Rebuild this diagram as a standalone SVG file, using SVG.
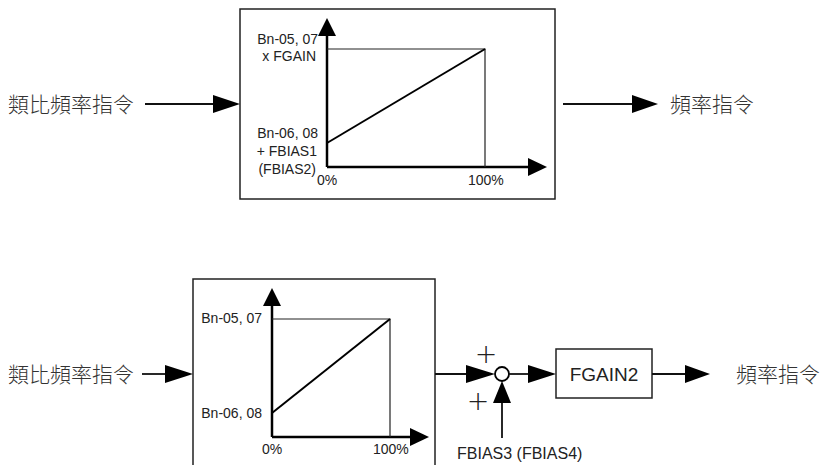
<svg xmlns="http://www.w3.org/2000/svg" width="821" height="465" viewBox="0 0 821 465">
<style>
.bg{fill:#fff}
.box{fill:none;stroke:#222;stroke-width:1.5}
.axis{fill:none;stroke:#000;stroke-width:2.5}
.thin{fill:none;stroke:#222;stroke-width:1.2}
.diag{fill:none;stroke:#000;stroke-width:2}
.wire{fill:none;stroke:#111;stroke-width:1.8}
.ah{fill:#000;stroke:none}
.lbl{font-family:"Liberation Sans",Arial,sans-serif;font-size:14px;fill:#222}
.cjk{font-family:"Noto Sans CJK TC","Noto Sans CJK SC",sans-serif;font-size:21px;fill:#333;font-weight:300}
.plus{font-family:"DejaVu Sans","Liberation Sans",sans-serif;font-size:27px;fill:#222;font-weight:200}
</style>
<rect class="bg" x="0" y="0" width="821" height="465"/>

<g id="top-graph">
<rect class="box" x="240" y="9" width="315" height="190"/>
<line class="axis" x1="327" y1="167" x2="327" y2="34"/>
<polygon class="ah" points="327,18 318,36 336,36"/>
<line class="axis" x1="327" y1="167" x2="530" y2="167"/>
<polygon class="ah" points="547,167 528,158 528,176"/>
<polyline class="thin" points="327,49 485,49 485,167"/>
<line class="diag" x1="327" y1="143" x2="485" y2="49"/>
<text class="lbl" x="318" y="44" text-anchor="end">Bn-05, 07</text>
<text class="lbl" x="316" y="61" text-anchor="end">x FGAIN</text>
<text class="lbl" x="318" y="138" text-anchor="end">Bn-06, 08</text>
<text class="lbl" x="317" y="156" text-anchor="end">+ FBIAS1</text>
<text class="lbl" x="316" y="174" text-anchor="end">(FBIAS2)</text>
<text class="lbl" x="317" y="185">0%</text>
<text class="lbl" x="468" y="185">100%</text>
</g>

<g id="top-input">
<text class="cjk" x="8" y="112">類比頻率指令</text>
</g>
<g id="top-output">
<text class="cjk" x="670" y="112">頻率指令</text>
</g>

<g id="bottom-graph">
<rect class="box" x="193" y="279" width="242" height="210"/>
<line class="axis" x1="272" y1="437" x2="272" y2="304"/>
<polygon class="ah" points="272,288 263,306 281,306"/>
<line class="axis" x1="272" y1="437" x2="412" y2="437"/>
<polygon class="ah" points="429,437 410,428 410,446"/>
<polyline class="thin" points="272,319 390,319 390,437"/>
<line class="diag" x1="272" y1="413" x2="390" y2="319"/>
<text class="lbl" x="262" y="323" text-anchor="end">Bn-05, 07</text>
<text class="lbl" x="262" y="418" text-anchor="end">Bn-06, 08</text>
<text class="lbl" x="262" y="454">0%</text>
<text class="lbl" x="373" y="454">100%</text>
</g>

<g id="bottom-input">
<text class="cjk" x="8" y="382">類比頻率指令</text>
</g>

<g id="sum">
<circle cx="502" cy="374" r="7" fill="#fff" stroke="#000" stroke-width="1.8"/>
<text class="plus" x="486" y="363" text-anchor="middle">+</text>
<text class="plus" x="478" y="410" text-anchor="middle">+</text>
</g>

<g id="fgain2">
<rect class="box" x="556" y="349" width="96" height="49"/>
<text x="604" y="381" text-anchor="middle" font-family="Liberation Sans, Arial, sans-serif" font-size="19" fill="#222">FGAIN2</text>
</g>

<g id="bias-input">
<text class="lbl" x="457" y="459" style="font-size:16px">FBIAS3 (FBIAS4)</text>
</g>

<g id="bottom-output">
<text class="cjk" x="736" y="382">頻率指令</text>
</g>

<g id="connectors">
<line class="wire" x1="145" y1="104" x2="215" y2="104"/>
<polygon class="ah" points="240,104 213,95 213,113"/>
<line class="wire" x1="563" y1="104" x2="634" y2="104"/>
<polygon class="ah" points="658,104 632,95 632,113"/>
<line class="wire" x1="142" y1="374" x2="167" y2="374"/>
<polygon class="ah" points="193,374 165,365 165,383"/>
<line class="wire" x1="435" y1="374" x2="468" y2="374"/>
<polygon class="ah" points="495,374 466,365 466,383"/>
<line class="wire" x1="509" y1="374" x2="530" y2="374"/>
<polygon class="ah" points="556,374 528,365 528,383"/>
<line class="wire" x1="652" y1="374" x2="687" y2="374"/>
<polygon class="ah" points="710,374 685,365 685,383"/>
<line class="wire" x1="502" y1="438" x2="502" y2="400"/>
<polygon class="ah" points="502,381 493,403 511,403"/>
</g>
</svg>
